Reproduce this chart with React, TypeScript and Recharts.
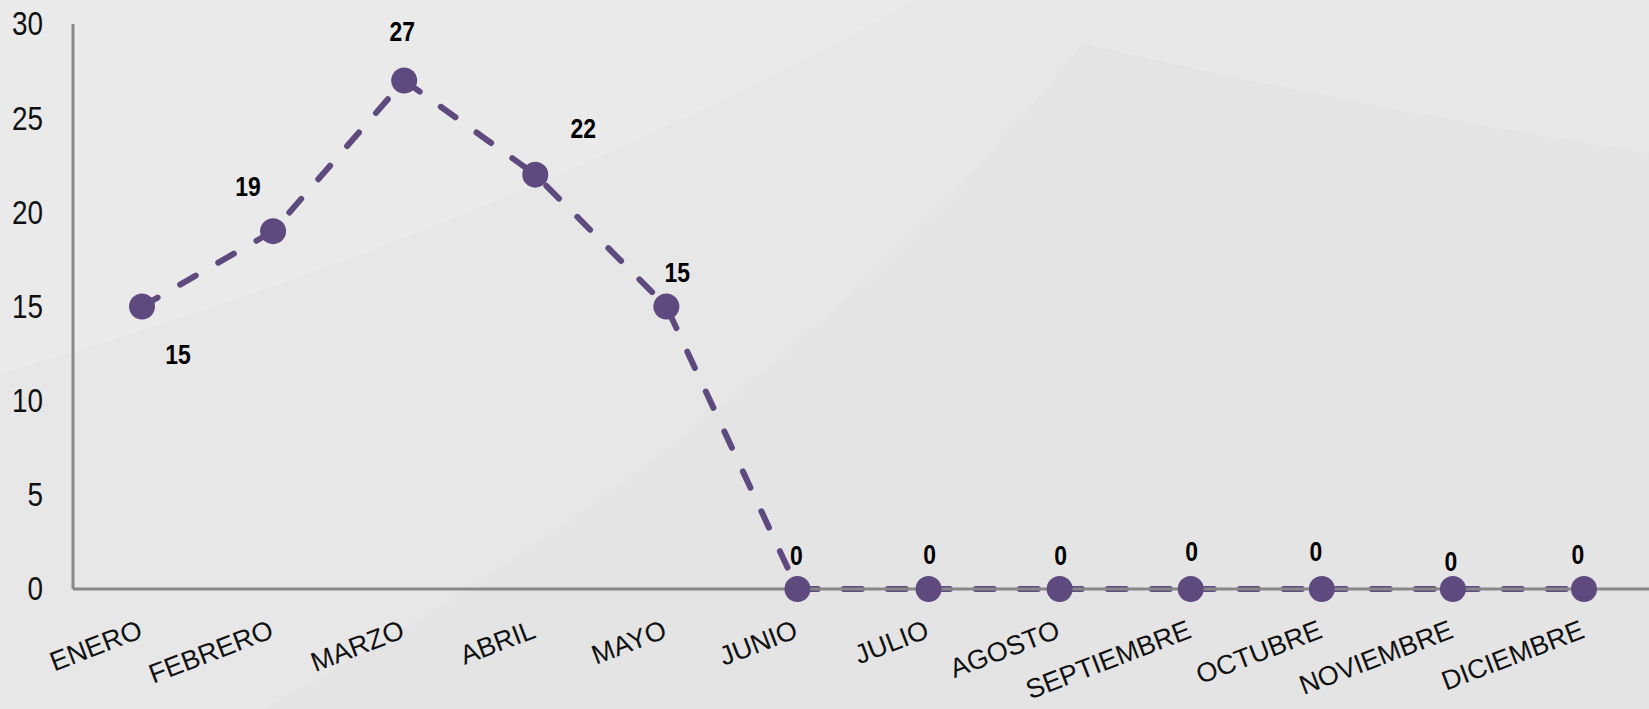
import { LabelList, Line, LineChart, XAxis, YAxis } from 'recharts';

const months = [
  'ENERO',
  'FEBRERO',
  'MARZO',
  'ABRIL',
  'MAYO',
  'JUNIO',
  'JULIO',
  'AGOSTO',
  'SEPTIEMBRE',
  'OCTUBRE',
  'NOVIEMBRE',
  'DICIEMBRE',
];

const counts = [15, 19, 27, 22, 15, 0, 0, 0, 0, 0, 0, 0];

const yTicks = [0, 5, 10, 15, 20, 25, 30];

// hand-placed label offsets from each dot (dx, dy), as in the original slide
const labelOffsets: [number, number][] = [
  [36, 48],
  [-25, -45],
  [-2, -49],
  [48, -46],
  [11, -34],
  [-1, -34],
  [1, -35],
  [1, -34],
  [1, -38],
  [-6, -38],
  [-2, -28],
  [-6, -35],
];

const data = months.map((month, i) => ({ month, value: counts[i] }));

const purple = '#5e4a7f';
const axisGray = '#888888';
const sans = "'Liberation Sans', Arial, sans-serif";

function MonthTick(props: any) {
  const { x, y, payload } = props;
  const tx = x + 2;
  const ty = y + 40;
  return (
    <text
      x={tx}
      y={ty}
      textAnchor="end"
      transform={`rotate(-21, ${tx}, ${ty})`}
      fontFamily={sans}
      fontSize={27}
      fill="#111"
    >
      {payload.value}
    </text>
  );
}

// condensed look of the slide's font: squeeze horizontally
function CountTick(props: any) {
  const { x, y, payload } = props;
  return (
    <text
      transform={`translate(${x}, ${y}) scale(0.82, 1)`}
      textAnchor="end"
      dominantBaseline="central"
      fontFamily={sans}
      fontSize={34}
      fill="#111"
    >
      {payload.value}
    </text>
  );
}

function ValueLabel(props: any) {
  const { x, y, value, index } = props;
  const [dx, dy] = labelOffsets[index] ?? [0, -34];
  return (
    <text
      transform={`translate(${x + dx}, ${y + dy}) scale(0.85, 1)`}
      textAnchor="middle"
      dominantBaseline="central"
      fontFamily={sans}
      fontWeight="bold"
      fontSize={27}
      fill="#000"
    >
      {value}
    </text>
  );
}

function Background() {
  return (
    <svg
      width={1649}
      height={709}
      style={{ position: 'absolute', left: 0, top: 0 }}
    >
      <rect x={0} y={0} width={1649} height={709} fill="#e4e4e5" />
      <path d="M0,374 Q500,230 917,0 L0,0 Z" fill="#eaeaeb" />
      <path d="M263,709 Q800,420 1117,0 L917,0 Q500,230 0,374 L0,709 Z" fill="#e7e7e8" />
      <path d="M906,0 Q1250,90 1649,153 L1649,0 Z" fill="#e8e8e9" />
    </svg>
  );
}

export default function App() {
  return (
    <div
      style={{
        position: 'absolute',
        left: 0,
        top: 0,
        width: 1649,
        height: 709,
        overflow: 'hidden',
      }}
    >
      <Background />
      <div style={{ position: 'absolute', left: 0, top: 0 }}>
        <LineChart
          width={1649}
          height={709}
          data={data}
          margin={{ top: 24, right: 0, bottom: 0, left: 0 }}
        >
          <XAxis
            dataKey="month"
            height={120}
            padding={{ left: 69, right: 65 }}
            axisLine={{ stroke: axisGray, strokeWidth: 3 }}
            tickLine={false}
            interval={0}
            tick={<MonthTick />}
          />
          <YAxis
            width={73}
            domain={[0, 30]}
            ticks={yTicks}
            axisLine={{ stroke: axisGray, strokeWidth: 3 }}
            tickLine={false}
            tickMargin={24}
            tick={<CountTick />}
          />
          <Line
            type="linear"
            dataKey="value"
            stroke={purple}
            strokeWidth={6}
            strokeDasharray="18 26"
            strokeLinecap="round"
            dot={{ r: 13, fill: purple, stroke: 'none' }}
            activeDot={false}
            isAnimationActive={false}
          >
            <LabelList dataKey="value" content={<ValueLabel />} />
          </Line>
        </LineChart>
      </div>
    </div>
  );
}
